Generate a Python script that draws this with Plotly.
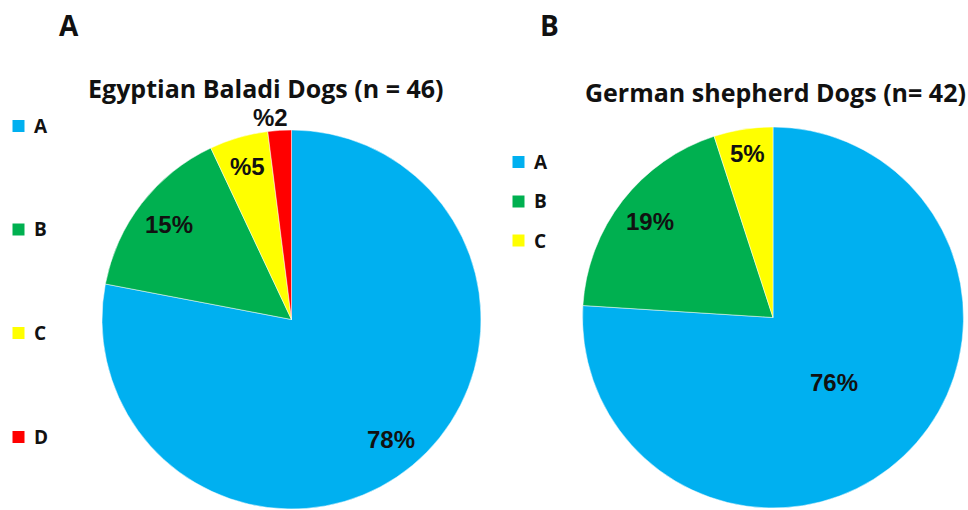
import math
import plotly.graph_objects as go

# Category names and shares (%) for each breed
categories = ["A", "B", "C", "D"]
baladi_values = [78, 15, 5, 2]
baladi_labels = ["78%", "15%", "%5", "%2"]

shepherd_categories = ["A", "B", "C"]
shepherd_values = [76, 19, 5]
shepherd_labels = ["76%", "19%", "5%"]

colors = {"A": "#00B0F0", "B": "#00B050", "C": "#FFFF00", "D": "#FF0000"}

W, H = 968, 510

# pie geometry in pixels: centre x, centre y, radius
left_geom = (291.5, 319.5, 189.5)
right_geom = (773.0, 317.5, 190.5)

# radial position of each value label as a fraction of the radius
left_label_r = [0.82, 0.82, 0.84, 1.07]
right_label_r = [0.47, 0.82, 0.87]


def domain(geom):
    cx, cy, r = geom
    return dict(x=[(cx - r) / W, (cx + r) / W], y=[1 - (cy + r) / H, 1 - (cy - r) / H])


def pie(labels, values, geom):
    return go.Pie(
        labels=labels,
        values=values,
        sort=False,
        direction="clockwise",
        rotation=0,
        textinfo="none",
        hoverinfo="label+percent",
        marker=dict(colors=[colors[c] for c in labels], line=dict(color="white", width=0.5)),
        domain=domain(geom),
        showlegend=False,
    )


fig = go.Figure()
fig.add_trace(pie(categories, baladi_values, left_geom))
fig.add_trace(pie(shepherd_categories, shepherd_values, right_geom))

annotations = []


def value_labels(values, texts, geom, radii, xshifts=None):
    cx, cy, r = geom
    total = sum(values)
    start = 0.0
    for i, (v, t) in enumerate(zip(values, texts)):
        mid = (start + v / 2) / total
        start += v
        theta = 2 * math.pi * mid
        px = cx + math.sin(theta) * radii[i] * r
        py = cy - math.cos(theta) * radii[i] * r
        annotations.append(dict(
            x=px / W, y=1 - py / H, xref="paper", yref="paper",
            text="<b>%s</b>" % t, showarrow=False, xanchor="center", yanchor="middle",
            xshift=(xshifts[i] if xshifts else 0),
            font=dict(family="Liberation Sans, Arial, sans-serif", size=24, color="#111111"),
        ))


value_labels(baladi_values, baladi_labels, left_geom, left_label_r, [0, 0, 0, -8])
value_labels(shepherd_values, shepherd_labels, right_geom, right_label_r)

title_font = dict(family="Open Sans, sans-serif", size=25, color="#111111")
panel_font = dict(family="Open Sans, sans-serif", size=28, color="#111111")
legend_font = dict(family="Open Sans, sans-serif", size=19, color="#111111")


def text_at(x, y, text, font, xanchor="center"):
    annotations.append(dict(
        x=x / W, y=1 - y / H, xref="paper", yref="paper", text="<b>%s</b>" % text,
        showarrow=False, xanchor=xanchor, yanchor="middle", font=font,
    ))


text_at(69, 25, "A", panel_font)
text_at(549.5, 25, "B", panel_font)
text_at(266, 88, "Egyptian Baladi Dogs (n = 46)", title_font)
text_at(775, 92, "German shepherd Dogs (n= 42)", title_font)

shapes = []


def legend(items, x0, ys):
    for c, y in zip(items, ys):
        shapes.append(dict(
            type="rect", xref="paper", yref="paper",
            x0=x0 / W, x1=(x0 + 12) / W, y0=1 - (y + 6) / H, y1=1 - (y - 6) / H,
            fillcolor=colors[c], line=dict(width=0),
        ))
        text_at(x0 + 19, y, c, legend_font, xanchor="left")


legend(categories, 12.5, [126, 229.5, 333, 437])
legend(shepherd_categories, 512.5, [162, 201.5, 240.5])

fig.update_layout(
    width=W, height=H,
    margin=dict(l=0, r=0, t=0, b=0),
    paper_bgcolor="white",
    plot_bgcolor="white",
    annotations=annotations,
    shapes=shapes,
    showlegend=False,
)

fig.write_html("out.html")
